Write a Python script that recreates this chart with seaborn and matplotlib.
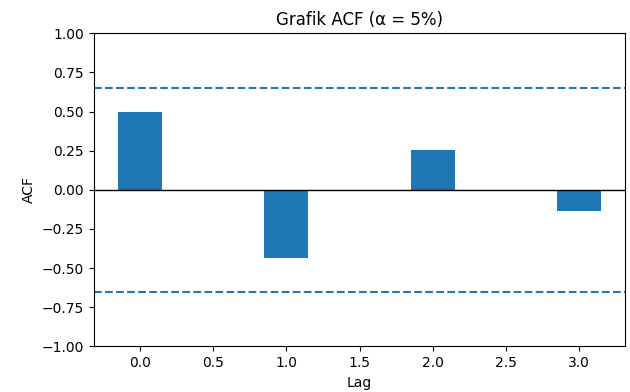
import numpy as np
import pandas as pd
import matplotlib
matplotlib.use('Agg')
import matplotlib.pyplot as plt
import seaborn as sns

# ACF values per lag
lags = [0, 1, 2, 3]
acf_values = [0.5, -0.434, 0.256, -0.133]
n_obs = 9
conf_bound = 1.96 / np.sqrt(n_obs)

df = pd.DataFrame({'Lag': lags, 'ACF': acf_values})

fig, ax = plt.subplots(figsize=(6.3, 3.92), dpi=100)
fig.subplots_adjust(left=0.149, right=0.9925, top=0.915, bottom=0.1166)

sns.barplot(data=df, x='Lag', y='ACF', native_scale=True, width=0.3,
            color='#1f77b4', saturation=1, ax=ax)

ax.axhline(0, color='black', linewidth=1)
ax.axhline(conf_bound, color='#1f77b4', linestyle='--')
ax.axhline(-conf_bound, color='#1f77b4', linestyle='--')

ax.set_xlim(-0.315, 3.315)
ax.set_ylim(-1, 1)
ax.set_xticks(np.arange(0, 3.01, 0.5))
ax.set_title('Grafik ACF (α = 5%)')
ax.set_xlabel('Lag')
ax.set_ylabel('ACF')

plt.savefig('out.png')
plt.close()
